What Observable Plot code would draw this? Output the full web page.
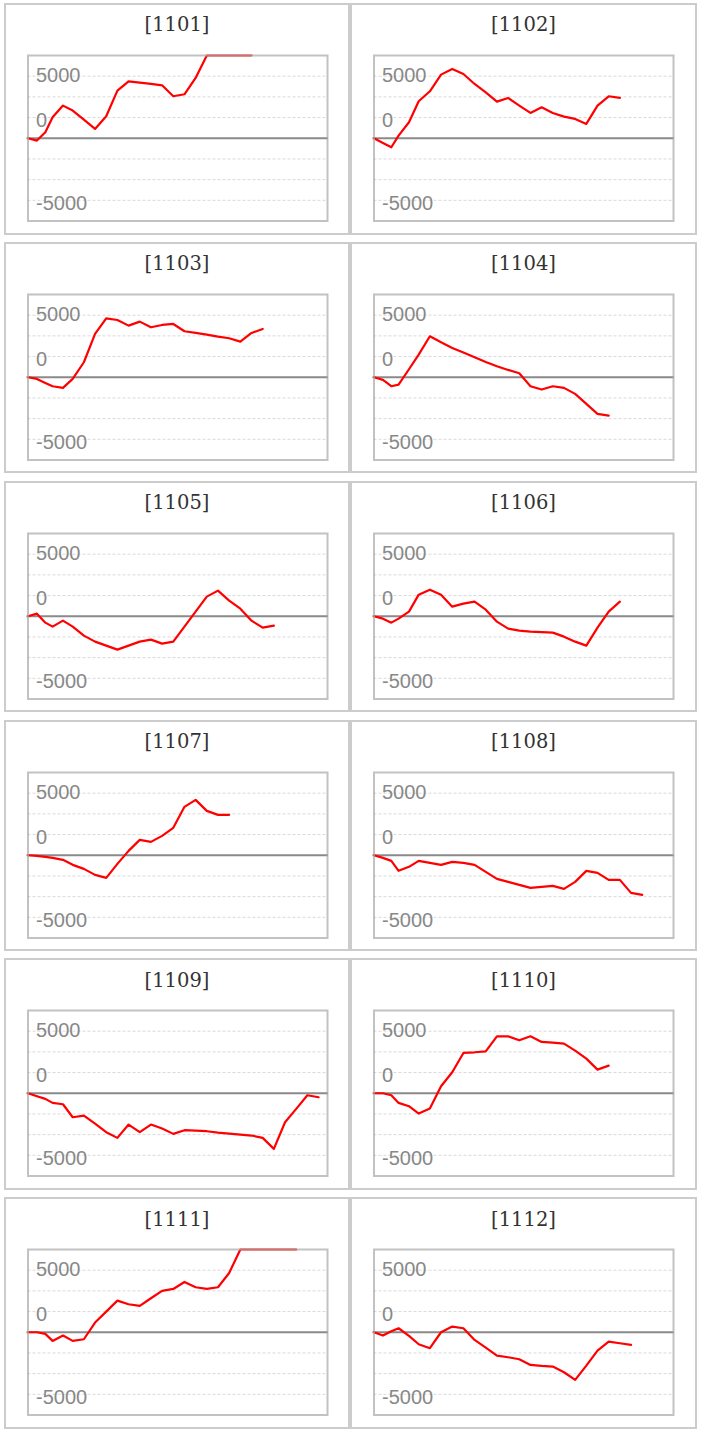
<!DOCTYPE html>
<html>
<head>
<meta charset="utf-8">
<script src="https://cdn.jsdelivr.net/npm/d3@7"></script>
<script src="https://cdn.jsdelivr.net/npm/@observablehq/plot@0.6"></script>
<style>
  html, body { margin: 0; padding: 0; background: #fff; }
  #wrap { position: relative; width: 701px; height: 1435px; }
  .cell { position: absolute; box-sizing: border-box; border: 2px solid #cccccc; height: 231.5px; background: #fff; }
  .cell .ttl { position: absolute; left: 0; right: 0; top: 10.3px; text-align: center;
    font-family: "DejaVu Serif", serif; font-size: 19.5px; line-height: 20px; color: #333; }
  .cell svg { position: absolute; left: 0; top: 0; }
</style>
</head>
<body>
<div id="wrap"></div>
<script>
// ---- data ----
const codes = ["1101","1102","1103","1104","1105","1106","1107","1108","1109","1110","1111","1112"];
// shared x position of the k-th point of every series
const xs = [0, 0.8, 1.55, 2.2, 3.13, 4, 5, 6, 7, 8, 9, 10, 11, 12, 13, 14, 15, 16, 17, 18, 19, 20, 21, 22, 23, 24, 25, 26];

const s1101 = [0, -225, 580, 2029, 3156, 2673, 1803, 902, 2125, 4605, 5506, 5377, 5249, 5120, 4057, 4250, 5828, 8100, 9000, 9600, 10000, 10300];
const s1102 = [0, -450, -870, 258, 1546, 3574, 4540, 6150, 6698, 6215, 5249, 4444, 3542, 3896, 3156, 2447, 2995, 2447, 2093, 1868, 1385, 3156, 4057, 3896];
const s1103 = [0, -161, -547, -869, -1030, -161, 1449, 4186, 5699, 5538, 4991, 5377, 4830, 5055, 5152, 4444, 4283, 4122, 3928, 3767, 3445, 4283, 4669];
const s1104 = [0, -258, -869, -708, 773, 2190, 3961, 3381, 2834, 2383, 1932, 1481, 1063, 708, 386, -869, -1191, -869, -1030, -1610, -2576, -3542, -3703];
const s1105 = [0, 251, -619, -1005, -425, -1005, -1875, -2455, -2842, -3229, -2842, -2455, -2262, -2649, -2455, -1005, 445, 1895, 2475, 1508, 735, -425, -1102, -909];
const s1106 = [0, -232, -619, -232, 445, 2088, 2571, 2088, 928, 1218, 1411, 638, -522, -1199, -1392, -1489, -1537, -1585, -1972, -2455, -2842, -1102, 445, 1411];
const s1107 = [0, -58, -155, -251, -445, -928, -1315, -1895, -2185, -831, 425, 1489, 1295, 1875, 2649, 4679, 5356, 4292, 3906, 3906];
const s1108 = [0, -251, -541, -1508, -1121, -541, -735, -928, -638, -735, -928, -1605, -2281, -2571, -2862, -3152, -3055, -2958, -3248, -2571, -1508, -1701, -2378, -2378, -3635, -3828];
const s1109 = [0, -290, -547, -934, -1063, -2318, -2157, -2930, -3767, -4315, -3027, -3767, -3027, -3413, -3928, -3574, -3606, -3671, -3800, -3896, -3993, -4089, -4315, -5377, -2801, -1513, -193, -386];
const s1110 = [0, 0, -193, -934, -1256, -1964, -1481, 676, 2029, 3896, 3961, 4057, 5506, 5506, 5120, 5506, 4959, 4894, 4798, 4122, 3349, 2286, 2673];
const s1111 = [0, 0, -161, -837, -322, -837, -676, 934, 1996, 3059, 2705, 2544, 3284, 4003, 4186, 4862, 4347, 4186, 4347, 5731, 8100, 8800, 9300, 9700, 10100, 10400];
const s1112 = [0, -322, 97, 386, -354, -1159, -1545, 0, 547, 386, -740, -1481, -2254, -2415, -2608, -3156, -3252, -3317, -3864, -4604, -3220, -1771, -901, -1062, -1223];

const seriesList = [s1101, s1102, s1103, s1104, s1105, s1106, s1107, s1108, s1109, s1110, s1111, s1112];

// y-axis: gridlines and the three labels as drawn in the picture
const gridValues = [-6000, -4000, -2000, 2000, 4000, 6000];
const tickLabels = ["5000", "0", "-5000"];
const tickAt = [6100, 1700, -6300];

// ---- layout ----
const wrap = document.getElementById("wrap");
const rowStep = 238.85;

codes.forEach((code, i) => {
  const col = i % 2, row = Math.floor(i / 2);
  const cellW = col === 0 ? 346 : 347;
  const cell = document.createElement("div");
  cell.className = "cell";
  cell.style.left = (col === 0 ? 4 : 350) + "px";
  cell.style.top = (3 + row * rowStep) + "px";
  cell.style.width = cellW + "px";

  const ttl = document.createElement("div");
  ttl.className = "ttl";
  ttl.textContent = "[" + code + "]";
  cell.appendChild(ttl);

  const vals = seriesList[i];
  const data = vals.map((v, k) => ({x: xs[k], v}));
  const W = cellW - 4;

  const chart = Plot.plot({
    width: W,
    height: 226,
    marginLeft: 21.5,
    marginRight: W - 321,
    marginTop: 50,
    marginBottom: 10.5,
    x: {domain: [0, 26.8], axis: null},
    y: {domain: [-8000, 8000], clamp: true, axis: null},
    style: {background: "transparent", overflow: "visible"},
    marks: [
      Plot.ruleY(gridValues, {stroke: "#d9d9d9", strokeWidth: 1, strokeDasharray: "3,2"}),
      Plot.ruleY([0], {stroke: "#8a8a8a", strokeWidth: 2, insetLeft: -1, insetRight: -1}),
      Plot.text(tickLabels, {
        y: tickAt, text: d => d, frameAnchor: "left", dx: 8,
        textAnchor: "start", lineAnchor: "middle",
        fontFamily: "Liberation Sans, Arial, sans-serif", fontSize: 20, fill: "#888"
      }),
      Plot.line(data, {x: "x", y: "v", stroke: "#ff0000", strokeWidth: 2.2}),
      Plot.frame({stroke: "#a8a8a8", strokeOpacity: 0.7, strokeWidth: 2})
    ]
  });
  cell.appendChild(chart);
  wrap.appendChild(cell);
});
</script>
</body>
</html>
